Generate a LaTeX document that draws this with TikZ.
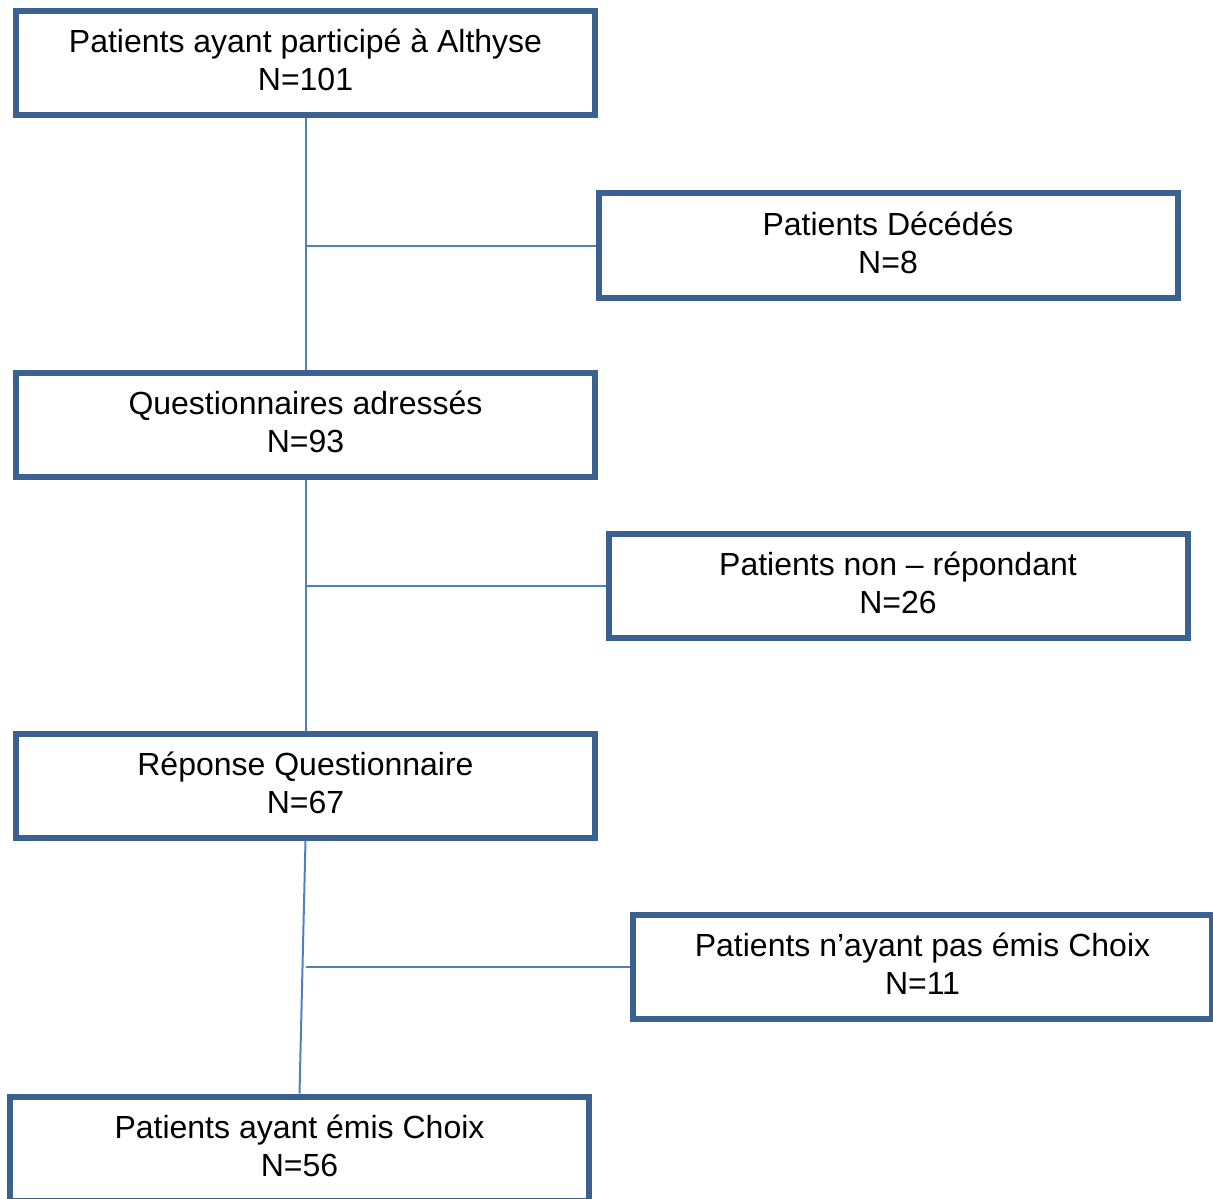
\documentclass[tikz,border=0pt]{standalone}
\usepackage{fontspec}
\setmainfont{Liberation Sans}
\usepackage{xcolor}
\definecolor{boxBlue}{HTML}{3A6190}
\definecolor{linkBlue}{HTML}{4F81BD}
\usepackage{tikz}
\usetikzlibrary{positioning,calc}

\begin{document}
\begin{tikzpicture}[x=0.5pt,y=-0.5pt,font=\fontsize{16}{19}\selectfont,
  flowbox/.style={draw=boxBlue,line width=3pt,fill=white,minimum width=289.5pt,
                  minimum height=52pt,inner sep=0pt,text depth=3pt,align=center},
  link/.style={draw=linkBlue,line width=1pt}]
  \useasboundingbox (0,0) rectangle (1213,1198);
  % main column
  \node[flowbox] (all) at (305.5,63) {Patients ayant participé à Althyse\\N=101};
  \node[flowbox] (sent) at (305.5,425) {Questionnaires adressés\\N=93};
  \node[flowbox] (answer) at (305.5,785.5) {Réponse Questionnaire\\N=67};
  \node[flowbox] (choice) at (299.5,1148.5) {Patients ayant émis Choix\\N=56};
  % exclusions
  \node[flowbox] (dead) at (888,245.5) {Patients Décédés\\N=8};
  \node[flowbox] (noreply) at (898,585.5) {Patients non -- répondant\\N=26};
  \node[flowbox] (nochoice) at (922.5,966.5) {Patients n’ayant pas émis Choix\\N=11};
  % links
  \draw[link] (all.south) -- (sent.north);
  \draw[link] (sent.south) -- (answer.north);
  \draw[link] (answer.south) -- (choice.north);
  \coordinate (j1) at (all.south |- dead.west);
  \coordinate (j2) at (sent.south |- noreply.west);
  \coordinate (j3) at (answer.south |- nochoice.west);
  \draw[link] (j1) -- (dead.west);
  \draw[link] (j2) -- (noreply.west);
  \draw[link] (j3) -- (nochoice.west);
\end{tikzpicture}
\end{document}
